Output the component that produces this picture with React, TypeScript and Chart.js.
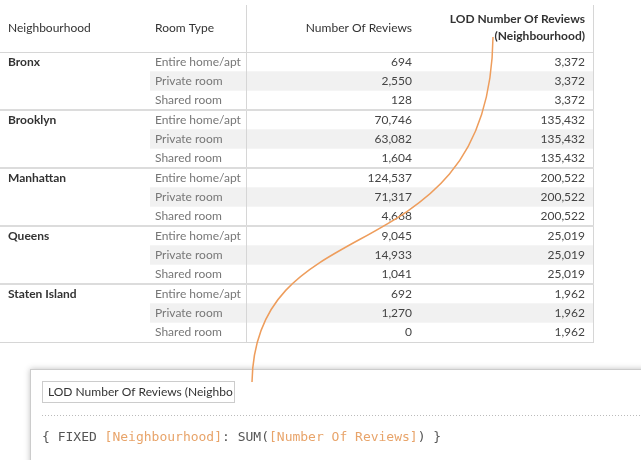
import React, { useEffect, useRef } from "react";
import { Chart, registerables } from "chart.js";

Chart.register(...registerables);

const neighbourhoods = ["Bronx", "Brooklyn", "Manhattan", "Queens", "Staten Island"];
const roomTypes = ["Entire home/apt", "Private room", "Shared room"];
const reviews = [
  [694, 2550, 128],
  [70746, 63082, 1604],
  [124537, 71317, 4668],
  [9045, 14933, 1041],
  [692, 1270, 0],
];
const lodReviews = [3372, 135432, 200522, 25019, 1962];

const FONT = "Lato, 'Open Sans', sans-serif";
const fmt = (n: number) => n.toLocaleString("en-US");

const tablePlugin = {
  id: "lodTable",
  afterDraw(chart: any) {
    const ctx: CanvasRenderingContext2D = chart.ctx;
    const top = 52;
    const rh = 58 / 3;
    const bottom = top + rh * 15;
    ctx.save();
    ctx.fillStyle = "#fff";
    ctx.fillRect(0, 0, chart.width, chart.height);

    // shading for Private room rows
    neighbourhoods.forEach((_, g) => {
      ctx.fillStyle = "#f1f1f1";
      ctx.fillRect(150, top + (g * 3 + 1) * rh, 443, rh);
    });

    ctx.strokeStyle = "#d6d6d6";
    ctx.lineWidth = 1;
    ctx.beginPath();
    ctx.moveTo(246.5, 5); ctx.lineTo(246.5, bottom);
    ctx.moveTo(593.5, 5); ctx.lineTo(593.5, bottom);
    ctx.moveTo(0, top + 0.5); ctx.lineTo(594, top + 0.5);
    ctx.moveTo(0, bottom + 0.5); ctx.lineTo(594, bottom + 0.5);
    ctx.stroke();
    ctx.strokeStyle = "#dcdcdc";
    ctx.lineWidth = 2;
    ctx.beginPath();
    for (let g = 1; g < neighbourhoods.length; g++) {
      const y = top + g * 3 * rh;
      ctx.moveTo(0, y); ctx.lineTo(594, y);
    }
    ctx.stroke();

    ctx.textBaseline = "middle";
    ctx.font = `12px ${FONT}`;
    ctx.fillStyle = "#333";
    ctx.textAlign = "left";
    ctx.fillText("Neighbourhood", 8, 28);
    ctx.fillText("Room Type", 155, 28);
    ctx.textAlign = "right";
    ctx.fillText("Number Of Reviews", 412, 28);
    ctx.font = `bold 12px ${FONT}`;
    ctx.fillText("LOD Number Of Reviews", 585, 19);
    ctx.fillText("(Neighbourhood)", 585, 36);

    neighbourhoods.forEach((n, g) => {
      ctx.textAlign = "left";
      ctx.font = `bold 12px ${FONT}`;
      ctx.fillStyle = "#333";
      ctx.fillText(n, 8, top + g * 3 * rh + rh / 2);
      roomTypes.forEach((r, i) => {
        const y = top + (g * 3 + i) * rh + rh / 2;
        ctx.font = `12px ${FONT}`;
        ctx.textAlign = "left";
        ctx.fillStyle = "#777";
        ctx.fillText(r, 155, y);
        ctx.textAlign = "right";
        ctx.fillStyle = "#444";
        ctx.fillText(fmt(reviews[g][i]), 412, y);
        ctx.fillText(fmt(lodReviews[g]), 585, y);
      });
    });

    // calculation panel
    ctx.shadowColor = "rgba(0,0,0,0.25)";
    ctx.shadowBlur = 6;
    ctx.fillStyle = "#fff";
    ctx.fillRect(30, 369, 640, 100);
    ctx.shadowBlur = 0;
    ctx.strokeStyle = "#ccc";
    ctx.lineWidth = 1;
    ctx.strokeRect(30.5, 369.5, 640, 100);
    ctx.fillStyle = "#fff";
    ctx.fillRect(42, 381, 192, 21);
    ctx.strokeRect(42.5, 381.5, 192, 21);
    ctx.save();
    ctx.beginPath();
    ctx.rect(43, 382, 190, 20);
    ctx.clip();
    ctx.textAlign = "left";
    ctx.fillStyle = "#333";
    ctx.font = `12px ${FONT}`;
    ctx.fillText("LOD Number Of Reviews (Neighbourhood)", 48, 392);
    ctx.restore();
    ctx.setLineDash([1, 2]);
    ctx.strokeStyle = "#bbb";
    ctx.beginPath();
    ctx.moveTo(42, 415.5); ctx.lineTo(641, 415.5);
    ctx.stroke();
    ctx.setLineDash([]);

    ctx.font = `13px 'DejaVu Sans Mono', monospace`;
    ctx.textAlign = "left";
    let x = 42;
    const parts: [string, string][] = [
      ["{ FIXED ", "#555"], ["[Neighbourhood]", "#e8a46a"], [": SUM(", "#555"],
      ["[Number Of Reviews]", "#e8a46a"], [") }", "#555"],
    ];
    parts.forEach(([t, c]) => {
      ctx.fillStyle = c;
      ctx.fillText(t, x, 438);
      x += ctx.measureText(t).width;
    });

    // connector curve
    ctx.strokeStyle = "#ee9d5c";
    ctx.lineWidth = 1.5;
    ctx.beginPath();
    ctx.moveTo(493, 37);
    ctx.bezierCurveTo(490, 280, 255, 200, 252, 382);
    ctx.stroke();
    ctx.restore();
  },
};

export default function App() {
  const canvasRef = useRef<HTMLCanvasElement>(null);
  useEffect(() => {
    document.body.style.margin = "0";
    if (!canvasRef.current) return;
    const chart = new Chart(canvasRef.current, {
      type: "bar",
      data: { labels: neighbourhoods, datasets: [{ data: lodReviews, backgroundColor: "transparent" }] },
      options: {
        animation: false,
        responsive: false,
        events: [],
        scales: { x: { display: false }, y: { display: false } },
        plugins: { legend: { display: false }, tooltip: { enabled: false } },
      },
      plugins: [tablePlugin],
    });
    return () => chart.destroy();
  }, []);
  return <canvas ref={canvasRef} width={641} height={460} style={{ display: "block" }} />;
}
